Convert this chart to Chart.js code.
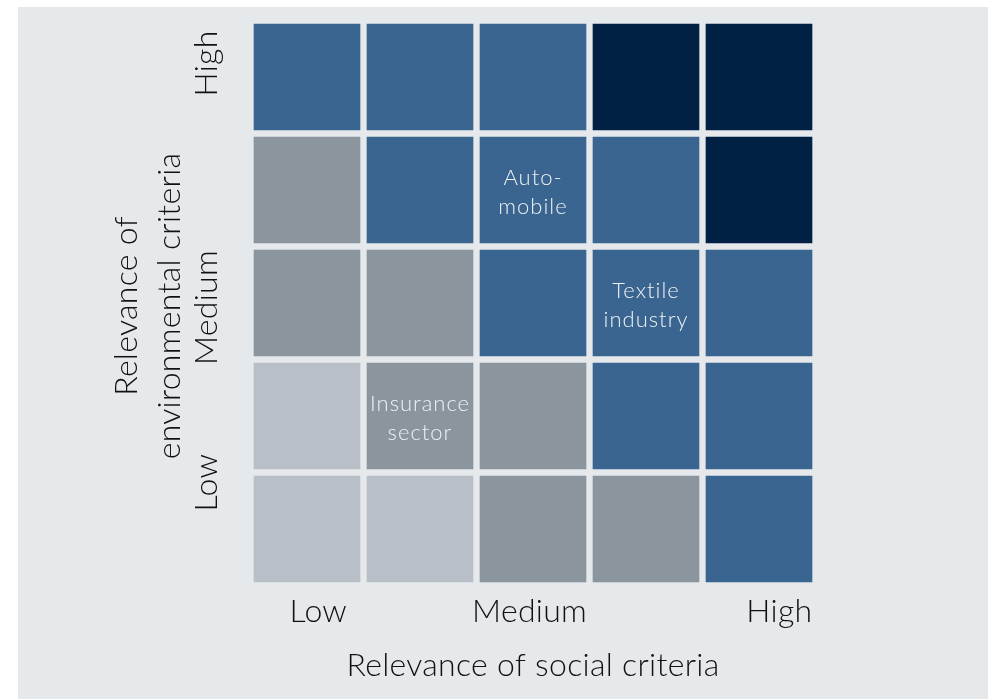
<!DOCTYPE html>
<html>
<head>
<meta charset="utf-8">
<script src="https://cdn.jsdelivr.net/npm/chart.js@4/dist/chart.umd.min.js"></script>
<style>
  html, body { margin: 0; padding: 0; background: #ffffff; }
  #wrap { width: 988px; height: 699px; }
</style>
</head>
<body>
<div id="wrap"><canvas id="c" width="988" height="699"></canvas></div>
<script>
// ---- data ----
// columns: relevance of social criteria (low -> high)
const socialLevels = ['Very low', 'Low', 'Medium', 'High', 'Very high'];
// rows: relevance of environmental criteria (index 0 = bottom / low)
const envLevels = ['Very low', 'Low', 'Medium', 'High', 'Very high'];
// combined relevance class per cell (1 = low ... 4 = very high), rows bottom -> top
const relevanceRow0 = [1, 1, 2, 2, 3];
const relevanceRow1 = [1, 2, 2, 3, 3];
const relevanceRow2 = [2, 2, 3, 3, 3];
const relevanceRow3 = [2, 3, 3, 3, 4];
const relevanceRow4 = [3, 3, 3, 4, 4];
const relevance = [relevanceRow0, relevanceRow1, relevanceRow2, relevanceRow3, relevanceRow4];

// axis tick labels and where they sit on the axes (axis units, 0..5)
const xTickLabels = ['Low', 'Medium', 'High'];
const xTickAt = [0.6, 2.47, 4.68];
const yTickLabels = ['Low', 'Medium', 'High'];
const yTickAt = [0.91, 2.46, 4.62];

// sector annotations: column index, row index (bottom = 0), text lines
const sectorNames = [['Auto-', 'mobile'], ['Textile', 'industry'], ['Insurance', 'sector']];
const sectorCol = [2, 3, 1];
const sectorRow = [3, 2, 1];

const xTitle = 'Relevance of social criteria';
const yTitle = ['Relevance of', 'environmental criteria'];

// ---- styles ----
const BG = '#e6e9ec';
const palette = { 1: '#b8bfc6', 2: '#8a959e', 3: '#3a6590', 4: '#002143' };
const FONT = 'Lato, "Noto Sans", sans-serif';

const datasets = relevance.map((rowVals, r) => ({
  label: envLevels[r],
  data: socialLevels.map(() => [r, r + 1]),
  backgroundColor: rowVals.map(v => palette[v]),
  borderColor: BG,
  borderWidth: 3.5,
  borderSkipped: false,
  grouped: false,
  barPercentage: 1,
  categoryPercentage: 1
}));

const panelPlugin = {
  id: 'panel',
  beforeDraw(chart) {
    const ctx = chart.ctx;
    ctx.save();
    ctx.fillStyle = BG;
    ctx.fillRect(18, 7, chart.width - 18, chart.height - 7);
    ctx.restore();
  }
};

const labelPlugin = {
  id: 'labels',
  afterDraw(chart) {
    const ctx = chart.ctx;
    const xs = chart.scales.x, ys = chart.scales.y;
    const xPix = v => xs.getPixelForValue(v - 0.5);
    const area = chart.chartArea;
    ctx.save();
    ctx.fillStyle = '#111111';
    ctx.font = '300 32px ' + FONT;
    ctx.letterSpacing = '0.3px';
    ctx.textAlign = 'center';
    ctx.textBaseline = 'alphabetic';
    // x ticks
    xTickLabels.forEach((t, i) => ctx.fillText(t, xPix(xTickAt[i]), area.bottom + 36.5));
    // x title
    ctx.fillText(xTitle, (area.left + area.right) / 2, area.bottom + 90);
    // y ticks
    yTickLabels.forEach((t, i) => {
      ctx.save();
      ctx.translate(area.left - 33.5, ys.getPixelForValue(yTickAt[i]));
      ctx.rotate(-Math.PI / 2);
      ctx.fillText(t, 0, 0);
      ctx.restore();
    });
    // y title
    const cy = (area.top + area.bottom) / 2 + 3;
    yTitle.forEach((t, i) => {
      ctx.save();
      ctx.translate(area.left - 114 + i * 43, cy);
      ctx.rotate(-Math.PI / 2);
      ctx.fillText(t, 0, 0);
      ctx.restore();
    });
    // cell annotations
    ctx.fillStyle = '#eef1f3';
    ctx.font = '300 22px ' + FONT;
    ctx.letterSpacing = '1px';
    sectorNames.forEach((lines, k) => {
      const cx = xs.getPixelForValue(sectorCol[k]);
      const cyc = ys.getPixelForValue(sectorRow[k] + 0.5);
      lines.forEach((ln, j) => {
        ctx.fillText(ln, cx, cyc + (j - (lines.length - 1) / 2) * 29 + 9);
      });
    });
    ctx.restore();
  }
};

new Chart(document.getElementById('c'), {
  type: 'bar',
  data: { labels: socialLevels, datasets },
  options: {
    responsive: false,
    animation: false,
    events: [],
    layout: { padding: { left: 250.5, right: 172.5, top: 20.5, bottom: 113.5 } },
    plugins: { legend: { display: false }, tooltip: { enabled: false } },
    scales: {
      x: { type: 'category', display: false, offset: true },
      y: { type: 'linear', display: false, min: 0, max: 5 }
    }
  },
  plugins: [panelPlugin, labelPlugin]
});
</script>
</body>
</html>
